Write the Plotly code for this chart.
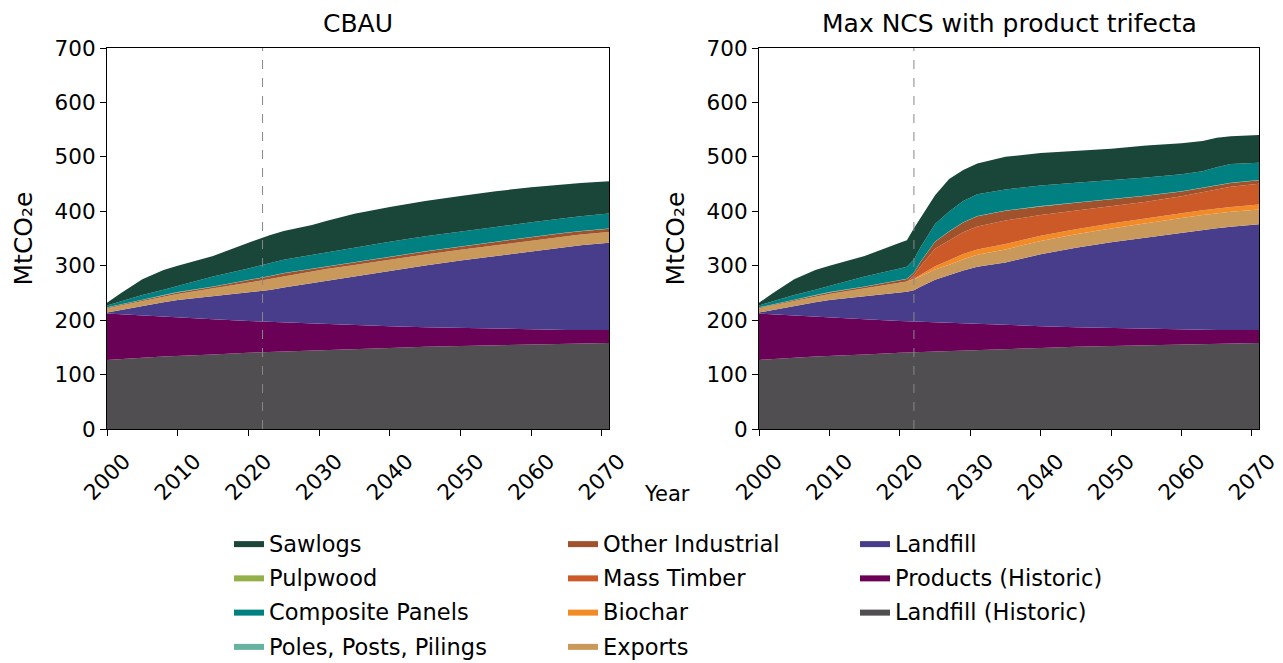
import plotly.graph_objects as go

years = [2000, 2002, 2005, 2008, 2010, 2015, 2020, 2021, 2022, 2023, 2025, 2027,
         2029, 2031, 2035, 2040, 2045, 2050, 2055, 2060, 2063, 2065, 2067, 2071]

# Shared historic pools (same in both scenarios)
landfill_hist = [127, 129, 131, 133, 134.5, 137, 140, 140.5, 141, 141.5, 142.5, 143.5,
                 144.5, 145.5, 147, 149, 151, 152.5, 154, 155.5, 156, 156.5, 157, 158]
products_hist = [85, 81.5, 77.5, 73.5, 70.5, 64.5, 58.5, 57.5, 56, 55, 53, 51,
                 49, 47, 44, 40, 36, 33, 30, 27.5, 26.5, 25.5, 25, 24]

# CBAU scenario
cbau_landfill = [2, 8.5, 17.5, 26.5, 32, 42.5, 52, 54, 56.5, 59, 64.5, 69.5,
                 75, 80.5, 90, 102, 113.5, 124, 134, 143.5, 149, 152.5, 155.5, 160]
cbau_exports = [8, 8.5, 9, 10, 11, 14, 18, 19, 20, 20.5, 21, 21,
                21, 21, 20.5, 20.5, 20, 20, 20, 20, 20, 20, 20, 20]
cbau_biochar = [0, 0, 0, 0, 0, 0, 0, 0, 0, 0, 0, 0,
                0, 0, 0, 0, 0, 0, 0, 0, 0, 0, 0, 0]
cbau_mass_timber = [0, 0, 0, 0, 0, 0, 0, 0, 0, 0, 0, 0,
                    0, 0, 0, 0, 0, 0, 0, 0, 0, 0, 0, 0]
cbau_other_ind = [1, 1.5, 2, 2.5, 3, 3.5, 4, 4.5, 4.5, 4.5, 5, 5,
                  5, 5, 5, 5.5, 5.5, 5.5, 6, 6, 6, 6, 6, 6]
cbau_poles = [0.5, 0.5, 0.5, 0.5, 0.5, 0.5, 0.5, 0.5, 0.5, 0.5, 0.5, 0.5,
              0.5, 0.5, 0.5, 0.5, 0.5, 0.5, 0.5, 0.5, 0.5, 0.5, 0.5, 0.5]
cbau_composite = [3.5, 5.5, 8.5, 10, 11.5, 18, 22, 22, 23.5, 24, 24.5, 25,
                  25, 25.5, 26.5, 26.5, 27.5, 26.5, 26.5, 27, 27, 27, 27, 27.5]
cbau_pulpwood = [0, 0, 0, 0, 0, 0, 0, 0, 0, 0, 0, 0,
                 0, 0, 0, 0, 0, 0, 0, 0, 0, 0, 0, 0]
cbau_sawlogs = [5, 15, 29, 36, 37, 38, 47, 49, 50, 51, 53, 54,
                55, 57, 62, 64, 65, 66, 66, 64, 63, 62, 61, 59]

# Max NCS with product trifecta scenario
ncs_landfill = [2, 8.5, 17.5, 26.5, 32, 42.5, 52, 54, 58, 65.5, 78.5, 88.5,
                97.5, 105.5, 115, 132, 146, 157.5, 168, 177.5, 183.5, 187, 189.5, 194]
ncs_exports = [8, 8.5, 9, 10, 11, 14, 18, 19, 20, 19, 19, 19,
               21, 22, 24, 24.5, 25, 25.5, 26.5, 27, 27, 27, 27.5, 27.5]
ncs_biochar = [0, 0, 0, 0, 0, 0, 0, 0, 1, 3, 6, 8,
               9.5, 10, 10, 9.5, 9, 9, 9, 9, 9, 9, 9, 9]
ncs_mass_timber = [0, 0, 0, 0, 0, 0, 0, 0, 6, 16, 32, 37,
                   40, 42, 43, 38, 34, 31, 30, 31, 33, 35, 37, 38]
ncs_other_ind = [1, 1.5, 2, 2.5, 3, 3.5, 4, 4.5, 5, 8, 13, 16,
                 18, 19, 18, 16, 14.5, 13, 11, 9, 8, 7.5, 7, 6.5]
ncs_poles = [0.5, 0.5, 0.5, 0.5, 0.5, 0.5, 0.5, 0.5, 0.5, 0.5, 0.5, 0.5,
             0.5, 0.5, 0.5, 0.5, 0.5, 0.5, 0.5, 0.5, 0.5, 0.5, 0.5, 0.5]
ncs_composite = [3.5, 5.5, 8.5, 10, 11.5, 18, 22, 22, 24, 27, 32, 36,
                 39, 40, 38.5, 38, 36.5, 35, 33, 31, 30, 33, 34.5, 31.5]
ncs_pulpwood = [0, 0, 0, 0, 0, 0, 0, 0, 0, 0, 0, 0,
                0, 0, 0, 0, 0, 0, 0, 0, 0, 0, 0, 0]
ncs_sawlogs = [5, 15, 29, 36, 37, 38, 47, 49, 57.5, 54.5, 53, 60,
               57, 56.5, 60, 59.5, 58.5, 58, 59, 57, 55.5, 54, 51, 51]

# Stack order, bottom to top
names = ["Landfill (Historic)", "Products (Historic)", "Landfill", "Exports", "Biochar",
         "Mass Timber", "Other Industrial", "Poles, Posts, Pilings", "Composite Panels",
         "Pulpwood", "Sawlogs"]
colors = ["#504e51", "#6b0057", "#483d8b", "#c8995a", "#f28a26",
          "#cc5a28", "#a0522d", "#66b2a0", "#008080", "#93b04a", "#1a4639"]
legend_ids = ["legend3", "legend3", "legend3", "legend2", "legend2",
              "legend2", "legend2", "legend", "legend", "legend", "legend"]

cbau = [landfill_hist, products_hist, cbau_landfill, cbau_exports, cbau_biochar,
        cbau_mass_timber, cbau_other_ind, cbau_poles, cbau_composite, cbau_pulpwood, cbau_sawlogs]
ncs = [landfill_hist, products_hist, ncs_landfill, ncs_exports, ncs_biochar,
       ncs_mass_timber, ncs_other_ind, ncs_poles, ncs_composite, ncs_pulpwood, ncs_sawlogs]

fig = go.Figure()
for i, name in enumerate(names):
    fig.add_trace(go.Scatter(
        x=years, y=cbau[i], name=name, mode="lines", stackgroup="cbau",
        line=dict(width=0, color=colors[i]), fillcolor=colors[i],
        xaxis="x", yaxis="y", legend=legend_ids[i], legendgroup=name,
        legendrank=100 - i, showlegend=True))
for i, name in enumerate(names):
    fig.add_trace(go.Scatter(
        x=years, y=ncs[i], name=name, mode="lines", stackgroup="ncs",
        line=dict(width=0, color=colors[i]), fillcolor=colors[i],
        xaxis="x2", yaxis="y2", legendgroup=name, showlegend=False))

W, H = 1283, 663
OFF = 8  # page body margin
def px_x(p):
    return (p - OFF) / W
def px_y(p):
    return 1 - (p - OFF) / H

font = dict(family="DejaVu Sans, sans-serif", size=21, color="black")
xcommon = dict(range=[2000, 2071], tickvals=[2000, 2010, 2020, 2030, 2040, 2050, 2060, 2070],
               tickangle=-45, showline=True, linecolor="black", linewidth=1.2, mirror=True,
               ticks="outside", ticklen=6, tickcolor="black", showgrid=False, zeroline=False,
               tickfont=dict(size=21.5), automargin=False, ticklabelshift=17,
               ticklabelstandoff=4)
ycommon = dict(range=[0, 700], tickvals=[0, 100, 200, 300, 400, 500, 600, 700],
               showline=True, linecolor="black", linewidth=1.2, mirror=True,
               ticks="outside", ticklen=6, tickcolor="black", showgrid=False, zeroline=False,
               tickfont=dict(size=21.5), automargin=False,
               title=dict(text="MtCO₂e", font=dict(size=25), standoff=14))

ydom = [px_y(429), px_y(48)]
fig.update_layout(
    width=W, height=H, margin=dict(l=0, r=0, t=0, b=0, autoexpand=False),
    paper_bgcolor="white", plot_bgcolor="white", font=font,
    xaxis=dict(domain=[px_x(107), px_x(609)], anchor="y", **xcommon),
    yaxis=dict(domain=ydom, anchor="x", **ycommon),
    xaxis2=dict(domain=[px_x(759), px_x(1259)], anchor="y2", **xcommon),
    yaxis2=dict(domain=ydom, anchor="x2", **ycommon),
    showlegend=True,
)

leg_common = dict(orientation="v", yanchor="top", y=px_y(522), xanchor="left",
                  font=dict(size=22.5), traceorder="grouped", tracegroupgap=2,
                  bgcolor="rgba(0,0,0,0)", itemsizing="constant")
fig.update_layout(
    legend=dict(x=px_x(229), **leg_common),
    legend2=dict(x=px_x(563), **leg_common),
    legend3=dict(x=px_x(855), **leg_common),
)

# dashed vertical reference line at 2022
for xr, yr in [("x", "y domain"), ("x2", "y2 domain")]:
    fig.add_shape(type="line", x0=2022, x1=2022, y0=0, y1=1, xref=xr, yref=yr,
                  line=dict(color="#888888", width=1, dash="dash"))

fig.add_annotation(text="CBAU", x=(px_x(107) + px_x(609)) / 2, y=px_y(48), xref="paper",
                   yref="paper", xanchor="center", yanchor="bottom", yshift=8,
                   showarrow=False, font=dict(size=25))
fig.add_annotation(text="Max NCS with product trifecta", x=(px_x(759) + px_x(1259)) / 2,
                   y=px_y(48), xref="paper", yref="paper", xanchor="center",
                   yanchor="bottom", yshift=8, showarrow=False, font=dict(size=25))
fig.add_annotation(text="Year", x=px_x(667), y=px_y(494), xref="paper", yref="paper",
                   xanchor="center", yanchor="middle", showarrow=False, font=dict(size=21))

fig.write_html("out.html")
